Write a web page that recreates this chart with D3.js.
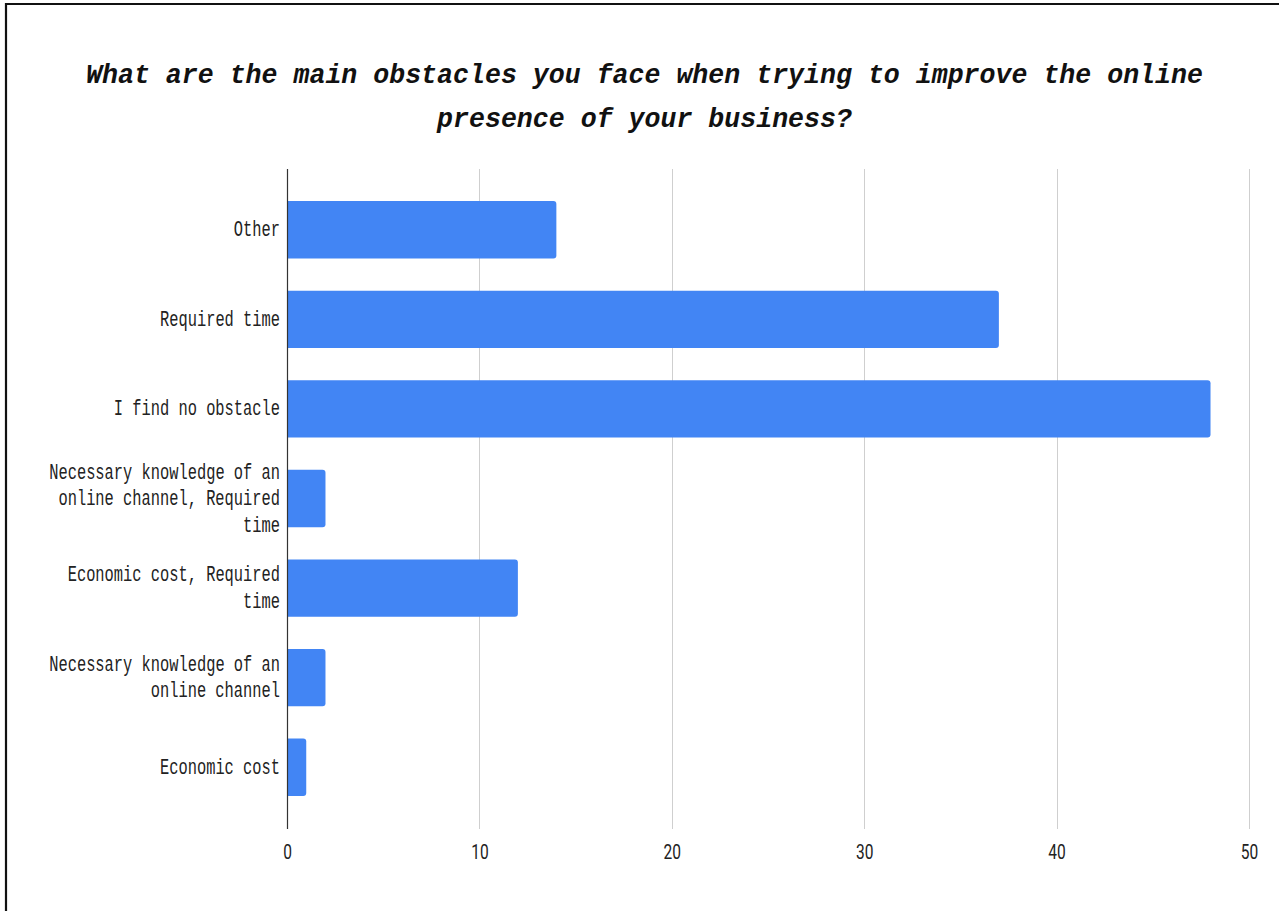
<!DOCTYPE html>
<html>
<head>
<meta charset="utf-8">
<script src="https://cdn.jsdelivr.net/npm/d3@7"></script>
<style>
  html, body { margin: 0; padding: 0; background: #fff; }
  svg { display: block; }
</style>
</head>
<body>
<svg id="chart" width="1279" height="911"></svg>
<script>
// Survey answers, drawn top to bottom
const categories = [
  "Other",
  "Required time",
  "I find no obstacle",
  "Necessary knowledge of an online channel, Required time",
  "Economic cost, Required time",
  "Necessary knowledge of an online channel",
  "Economic cost"
];
const counts = [14, 37, 48, 2, 12, 2, 1];
const xTicks = [0, 10, 20, 30, 40, 50];
const titleLines = [
  "What are the main obstacles you face when trying to improve the online",
  "presence of your business?"
];

const W = 1279, H = 911;
const plot = { left: 287, right: 1249, top: 185, bottom: 812, gridTop: 169, gridBottom: 829 };
const svg = d3.select("#chart");

svg.append("rect").attr("width", W).attr("height", H).attr("fill", "#fff");

// frame on the left and top edges
svg.append("path")
  .attr("d", `M6,${H} V4 H${W}`)
  .attr("fill", "none").attr("stroke", "#111").attr("stroke-width", 2.2);

const x = d3.scaleLinear().domain([0, 50]).range([plot.left, plot.right]);
const y = d3.scaleBand().domain(categories).range([plot.top, plot.bottom]).paddingInner(0.36).paddingOuter(0.18);

// title
const title = svg.append("g").attr("class", "title");
titleLines.forEach((line, i) => {
  title.append("text")
    .attr("transform", `translate(644.5,${83 + i * 44}) scale(0.95,1)`)
    .attr("text-anchor", "middle")
    .attr("font-family", "'Liberation Mono', 'Courier New', monospace")
    .attr("font-weight", "bold")
    .attr("font-style", "italic")
    .attr("font-size", 28)
    .attr("fill", "#111")
    .text(line);
});

// vertical gridlines
svg.append("g").selectAll("line")
  .data(xTicks.filter(t => t !== 0))
  .join("line")
  .attr("x1", d => Math.round(x(d)) + 0.5).attr("x2", d => Math.round(x(d)) + 0.5)
  .attr("y1", plot.gridTop).attr("y2", plot.gridBottom)
  .attr("stroke", "#cfcfcf").attr("stroke-width", 1);

// x tick labels
const xAxis = d3.axisBottom(x).tickValues(xTicks).tickSize(0).tickPadding(0);
const gx = svg.append("g").attr("transform", `translate(0,${plot.gridBottom})`).call(xAxis);
gx.select(".domain").remove();
gx.selectAll(".tick text")
  .attr("y", 0).attr("dy", 0)
  .attr("transform", "translate(0,30) scale(0.74,1)")
  .attr("font-family", "Roboto, 'Liberation Sans', sans-serif")
  .attr("font-size", 21)
  .attr("fill", "#222");

// bars with rounded right ends
function barPath(x0, x1, y0, h, r) {
  r = Math.min(r, (x1 - x0));
  return `M${x0},${y0} H${x1 - r} Q${x1},${y0} ${x1},${y0 + r} V${y0 + h - r} Q${x1},${y0 + h} ${x1 - r},${y0 + h} H${x0} Z`;
}
svg.append("g").selectAll("path")
  .data(categories.map((c, i) => ({ c, v: counts[i] })))
  .join("path")
  .attr("d", d => barPath(x(0), x(d.v), y(d.c), y.bandwidth(), 3))
  .attr("fill", "#4285f4");

// y axis line
svg.append("line")
  .attr("x1", plot.left + 0.5).attr("x2", plot.left + 0.5)
  .attr("y1", plot.gridTop).attr("y2", plot.gridBottom)
  .attr("stroke", "#333").attr("stroke-width", 1.2);

// category labels, word-wrapped
function wrap(text, maxChars) {
  const words = text.split(" ");
  const lines = [];
  let cur = "";
  words.forEach(w => {
    const next = cur ? cur + " " + w : w;
    if (next.length > maxChars && cur) { lines.push(cur); cur = w; }
    else cur = next;
  });
  if (cur) lines.push(cur);
  return lines;
}
const lineGap = 26.5;
const labels = svg.append("g");
categories.forEach(c => {
  const lines = wrap(c, 26);
  const cy = y(c) + y.bandwidth() / 2;
  lines.forEach((ln, i) => {
    const ly = cy + (i - (lines.length - 1) / 2) * lineGap + 6.5;
    labels.append("text")
      .attr("transform", `translate(280,${ly}) scale(0.7,1)`)
      .attr("text-anchor", "end")
      .attr("font-family", "'Liberation Mono', 'Courier New', monospace")
      .attr("font-size", 22)
      .attr("fill", "#222")
      .text(ln);
  });
});
</script>
</body>
</html>
